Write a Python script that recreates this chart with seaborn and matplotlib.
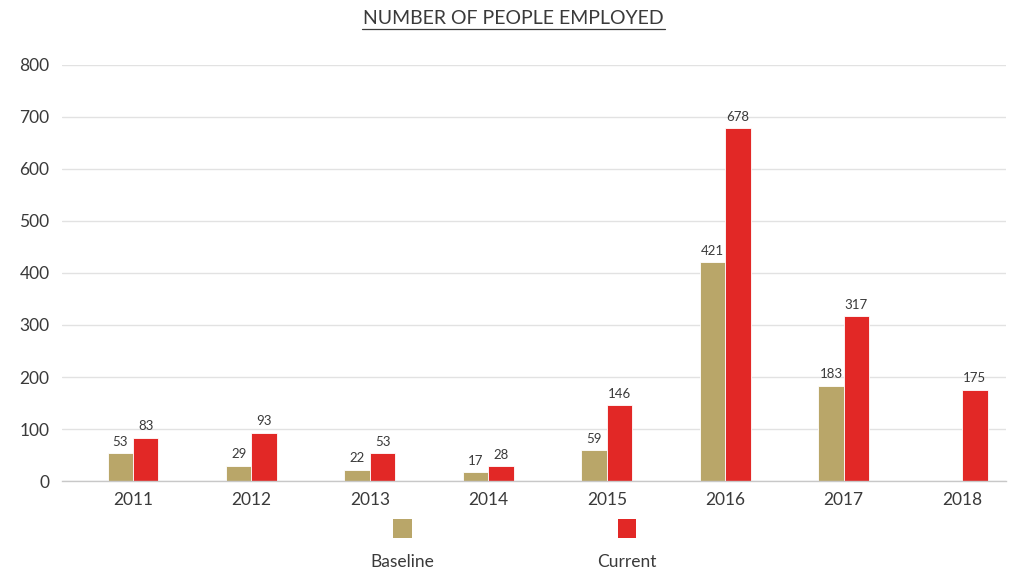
import matplotlib
matplotlib.use("Agg")
import matplotlib.pyplot as plt
from matplotlib.lines import Line2D
from matplotlib.patches import Rectangle
import numpy as np
import pandas as pd
import seaborn as sns

# Employment figures per year
years = ["2011", "2012", "2013", "2014", "2015", "2016", "2017", "2018"]
baseline = [53, 29, 22, 17, 59, 421, 183, np.nan]
current = [83, 93, 53, 28, 146, 678, 317, 175]
series_names = ["Baseline", "Current"]
palette = {"Baseline": "#B9A669", "Current": "#E22826"}
title_text = "NUMBER OF PEOPLE EMPLOYED"
y_ticks = [0, 100, 200, 300, 400, 500, 600, 700, 800]

df = pd.DataFrame({
    "year": years * 2,
    "series": ["Baseline"] * len(years) + ["Current"] * len(years),
    "value": baseline + current,
})

sns.set_theme(style="white")
plt.rcParams["font.family"] = ["Lato", "DejaVu Sans"]
text_color = "#3a3a3a"

fig = plt.figure(figsize=(10.09, 5.71), dpi=100)
ax = fig.add_axes([0.0614, 0.1576, 0.9356, 0.7286])

sns.barplot(data=df, x="year", y="value", hue="series", order=years,
            hue_order=series_names, palette=palette, width=0.43,
            saturation=1, edgecolor="white", linewidth=0.6,
            legend=False, ax=ax)

for cont in ax.containers:
    ax.bar_label(cont, fmt="{:.0f}", padding=4, fontsize=9.5, color=text_color)

ax.set_ylim(0, 800)
ax.set_xlim(-0.60, 7.37)
ax.set_yticks(y_ticks)
ax.yaxis.grid(True, color="#e2e2e2", linewidth=1)
ax.set_axisbelow(True)
for s in ["top", "right", "left"]:
    ax.spines[s].set_visible(False)
ax.spines["bottom"].set_color("#c8c8c8")
ax.spines["bottom"].set_linewidth(1)
ax.tick_params(axis="both", length=0, labelsize=12.5, labelcolor=text_color)
ax.tick_params(axis="y", pad=9)
ax.tick_params(axis="x", pad=8)
ax.set_xlabel("")
ax.set_ylabel("")

# Title with underline
fig.text(0.5085, 0.968, title_text, ha="center", va="center",
         fontsize=14, color=text_color)
fig.add_artist(Line2D([0.3588, 0.659], [0.950, 0.950],
                      transform=fig.transFigure, color=text_color, linewidth=0.9))

# Legend: swatch above its label
legend_x = [0.399, 0.6214]
for name, lx in zip(series_names, legend_x):
    sw = 0.0188
    sh = sw * 10.09 / 5.71
    fig.add_artist(Rectangle((lx - sw / 2, 0.0578), sw, sh,
                             transform=fig.transFigure,
                             facecolor=palette[name], edgecolor="none"))
    fig.text(lx, 0.0158, name, ha="center", va="center",
             fontsize=12.5, color=text_color)

fig.savefig("out.png", dpi=100)
